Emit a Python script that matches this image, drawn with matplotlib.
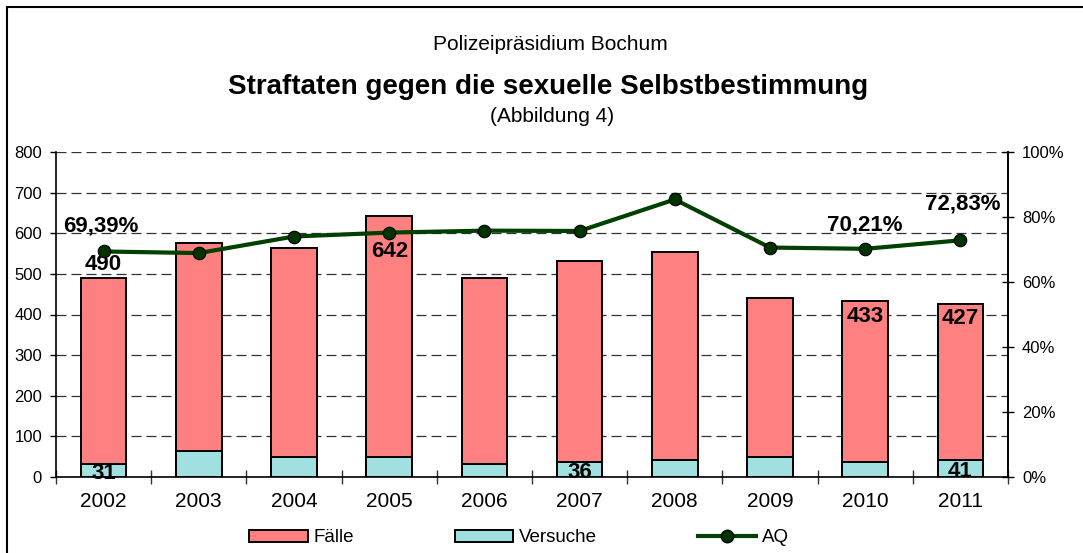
import numpy as np
import matplotlib.pyplot as plt
from matplotlib.patches import Rectangle, Patch
from matplotlib.lines import Line2D

plt.rcParams['font.family'] = ['Liberation Sans', 'DejaVu Sans']

years = ['2002', '2003', '2004', '2005', '2006', '2007', '2008', '2009', '2010', '2011']
faelle = [490, 577, 564, 642, 491, 532, 555, 441, 433, 427]
versuche = [31, 64, 50, 50, 32, 36, 41, 50, 36, 41]
aq = [0.6939, 0.689, 0.740, 0.752, 0.758, 0.757, 0.854, 0.706, 0.7021, 0.7283]

# which bars / points carry a value label
faelle_lbl = {0: 'above', 3: 'inside', 8: 'inside', 9: 'inside'}
versuche_lbl = [0, 5, 9]
aq_lbl = {0: (-3, 25), 8: (0, 24), 9: (2, 36)}

fig = plt.figure(figsize=(10.83, 5.53), dpi=100)
ax = fig.add_axes([56 / 1083, 1 - 477 / 553, 952 / 1083, 325 / 553])
x = np.arange(len(years))

ax.set_axisbelow(True)
ax.yaxis.grid(True, linestyle=(0, (8, 4)), color='#333333', linewidth=0.9)
ax.bar(x, faelle, width=0.48, color='#ff8080', edgecolor='black', linewidth=1.4, zorder=2)
ax.bar(x, versuche, width=0.48, color='#a0e0e0', edgecolor='black', linewidth=1.4, zorder=3)

ax.set_xlim(-0.5, 9.5)
ax.set_ylim(0, 800)
ax.set_yticks(range(0, 801, 100))
ax.tick_params(axis='y', labelsize=12, direction='out', length=4, width=1, pad=6)
ax.set_xticks(x)
ax.set_xticklabels(years, fontsize=15)
ax.tick_params(axis='x', length=0, pad=11)
ax.set_xticks(np.arange(-0.5, 10, 1), minor=True)
ax.tick_params(axis='x', which='minor', direction='inout', length=10, width=1, color='#333333')
ax.spines['top'].set_visible(False)
for s in ['left', 'bottom', 'right']:
    ax.spines[s].set_linewidth(1.2)

for i, pos in faelle_lbl.items():
    if pos == 'above':
        ax.annotate(str(faelle[i]), (x[i], faelle[i]), xytext=(0, 3), textcoords='offset pixels',
                    ha='center', va='bottom', fontsize=16, fontweight='bold', zorder=6)
    else:
        off = -35 if i == 3 else -15
        ax.annotate(str(faelle[i]), (x[i], faelle[i]), xytext=(0, off), textcoords='offset pixels',
                    ha='center', va='center', fontsize=16, fontweight='bold', zorder=6)
for i in versuche_lbl:
    ax.annotate(str(versuche[i]), (x[i], versuche[i] / 2), xytext=(0, -3), textcoords='offset pixels',
                ha='center', va='center', fontsize=16, fontweight='bold', zorder=6)

ax2 = ax.twinx()
ax2.set_ylim(0, 1)
ax2.set_yticks(np.arange(0, 1.01, 0.2))
ax2.set_yticklabels(['%d%%' % round(v * 100) for v in np.arange(0, 1.01, 0.2)])
ax2.tick_params(axis='y', labelsize=12, direction='inout', length=8, width=1, pad=6)
for s in ['top', 'left', 'bottom']:
    ax2.spines[s].set_visible(False)
ax2.spines['right'].set_linewidth(1.2)
ax2.plot(x, aq, color='#004000', linewidth=3, marker='o', markersize=9,
         markerfacecolor='#003300', markeredgecolor='black', markeredgewidth=0.8, zorder=5)
for i, (dx, dy) in aq_lbl.items():
    ax2.annotate(('%.2f%%' % (aq[i] * 100)).replace('.', ','), (x[i], aq[i]), xytext=(dx, dy),
                 textcoords='offset pixels', ha='center', va='center', fontsize=16, fontweight='bold')

# titles
fig.text(550 / 1083, 1 - 45 / 553, 'Polizeipräsidium Bochum', ha='center', va='center', fontsize=15)
fig.text(548 / 1083, 1 - 87 / 553, 'Straftaten gegen die sexuelle Selbstbestimmung', ha='center',
         va='center', fontsize=20, fontweight='bold')
fig.text(552 / 1083, 1 - 117 / 553, '(Abbildung 4)', ha='center', va='center', fontsize=15)

# legend
handles = [Patch(facecolor='#ff8080', edgecolor='black', linewidth=1.4, label='Fälle'),
           Patch(facecolor='#a0e0e0', edgecolor='black', linewidth=1.4, label='Versuche'),
           Line2D([], [], color='#004000', linewidth=3, marker='o', markersize=9,
                  markerfacecolor='#003300', markeredgecolor='black', label='AQ')]
fig.legend(handles=handles, loc='center', bbox_to_anchor=(519 / 1083, 1 - 538 / 553), ncol=3,
           frameon=False, fontsize=13.5, handlelength=3.1, handleheight=0.6, handletextpad=0.3,
           columnspacing=5.4)

# frame around the chart
fig.add_artist(Rectangle((7 / 1083, -0.1), 1.2, 1 - 7 / 553 + 0.1, transform=fig.transFigure,
                         fill=False, edgecolor='black', linewidth=1.5))

fig.savefig('out.png', dpi=100)
